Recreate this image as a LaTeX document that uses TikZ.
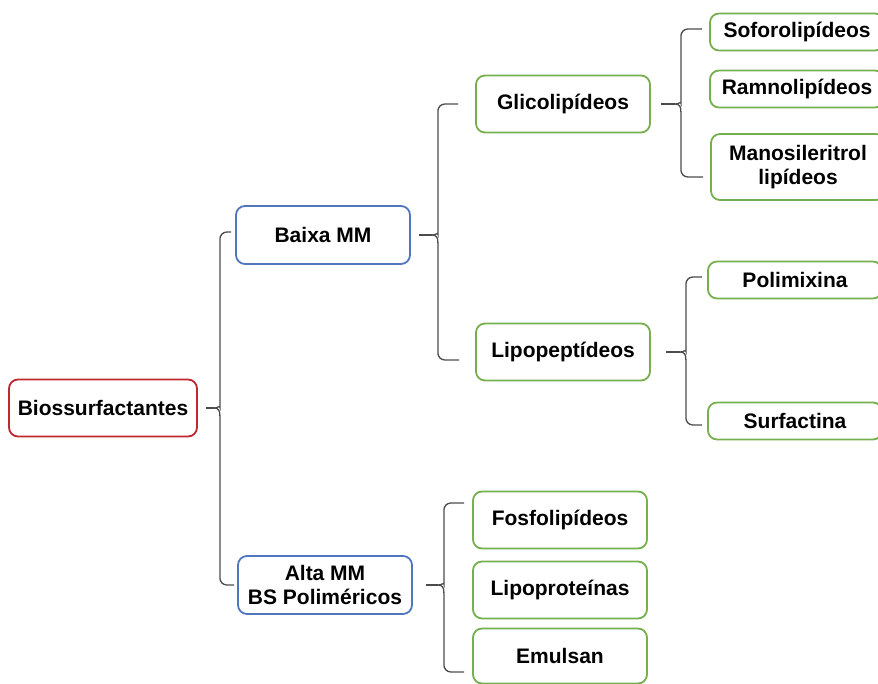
\documentclass[tikz,border=0pt]{standalone}
\usepackage{fontspec}
\setmainfont{Liberation Sans}
\usetikzlibrary{positioning,calc}
\definecolor{rootred}{RGB}{192,40,48}
\definecolor{midblue}{RGB}{80,118,190}
\definecolor{leafgreen}{RGB}{118,176,78}
\definecolor{linegray}{RGB}{75,75,75}

\begin{document}
\begin{tikzpicture}[
    x=1pt, y=1pt,
    box/.style={rectangle, rounded corners=9pt, line width=1.8pt, fill=white, align=center, font=\fontsize{21}{23.5}\selectfont\bfseries, inner sep=2pt},
    root/.style={box, draw=rootred, minimum width=188pt, minimum height=57pt},
    mid/.style={box, draw=midblue, minimum width=174pt, minimum height=58pt},
    leaf/.style={box, draw=leafgreen, minimum width=174pt, minimum height=57pt},
    small/.style={box, draw=leafgreen, minimum width=174pt, minimum height=37pt},
    bline/.style={draw=linegray, line width=1.3pt}
]

\clip (0,0) rectangle (878,683);

% Main components
\node[root] (bio) at (103,275) {Biossurfactantes};
\node[mid] (baixa) at (323,448) {Baixa MM};
\node[mid] (alta) at (325,98) {Alta MM\\BS Poliméricos};

% Baixa MM branch
\node[leaf] (glico) at (563,579) {Glicolipídeos};
\node[leaf] (lipop) at (563,331) {Lipopeptídeos};
\node[small] (sofo) at (797,651) {Soforolipídeos};
\node[small] (ramno) at (797,594) {Ramnolipídeos};
\node[leaf, minimum height=66pt] (mano) at (798,516) {Manosileritrol\\lipídeos};
\node[small] (polim) at (795,403) {Polimixina};
\node[small] (surf) at (795,262) {Surfactina};

% Alta MM branch
\node[leaf] (fosfo) at (560,163) {Fosfolipídeos};
\node[leaf] (lipopr) at (560,93) {Lipoproteínas};
\node[leaf, minimum height=55pt] (emul) at (560,27) {Emulsan};

% Spines of the braces
\coordinate (s1) at ([xshift=22pt]bio.east);
\coordinate (s2) at ([xshift=27pt]baixa.east);
\coordinate (s3) at ([xshift=30pt]glico.east);
\coordinate (s4) at ([xshift=35pt]lipop.east);
\coordinate (s5) at ([xshift=31pt]alta.east);

% Braces
\draw[bline] ([xshift=-4pt,yshift=3pt]baixa.west) [rounded corners=7pt] -| ([yshift=8pt]s1)
  [sharp corners] .. controls +(0,-5) and +(5,0) .. ([xshift=-6pt]s1)
  .. controls +(5,0) and +(0,5) .. ([yshift=-8pt]s1)
  [rounded corners=7pt] |- ([xshift=-3pt]alta.west);
\draw[bline] ([xshift=8pt]bio.east) -- ([xshift=-6pt]s1);

\draw[bline] ([xshift=-17pt]glico.west) [rounded corners=7pt] -| ([yshift=8pt]s2)
  [sharp corners] .. controls +(0,-5) and +(5,0) .. ([xshift=-6pt]s2)
  .. controls +(5,0) and +(0,5) .. ([yshift=-8pt]s2)
  [rounded corners=7pt] |- ([xshift=-16pt,yshift=-8pt]lipop.west);
\draw[bline] ([xshift=8pt]baixa.east) -- ([xshift=-6pt]s2);

\draw[bline] ([xshift=-7pt,yshift=3pt]sofo.west) [rounded corners=7pt] -| ([yshift=8pt]s3)
  [sharp corners] .. controls +(0,-5) and +(5,0) .. ([xshift=-6pt]s3)
  .. controls +(5,0) and +(0,5) .. ([yshift=-8pt]s3)
  [rounded corners=7pt] |- ([xshift=-7pt,yshift=-10pt]mano.west);
\draw[bline] ([xshift=10pt]glico.east) -- ([xshift=-6pt]s3);

\draw[bline] ([xshift=-5pt,yshift=3pt]polim.west) [rounded corners=7pt] -| ([yshift=8pt]s4)
  [sharp corners] .. controls +(0,-5) and +(5,0) .. ([xshift=-6pt]s4)
  .. controls +(5,0) and +(0,5) .. ([yshift=-8pt]s4)
  [rounded corners=7pt] |- ([xshift=-5pt,yshift=-4pt]surf.west);
\draw[bline] ([xshift=15pt]lipop.east) -- ([xshift=-6pt]s4);

\draw[bline] ([xshift=-8pt,yshift=17pt]fosfo.west) [rounded corners=7pt] -| ([yshift=8pt]s5)
  [sharp corners] .. controls +(0,-5) and +(5,0) .. ([xshift=-6pt]s5)
  .. controls +(5,0) and +(0,5) .. ([yshift=-8pt]s5)
  [rounded corners=7pt] |- ([xshift=-8pt,yshift=-16pt]emul.west);
\draw[bline] ([xshift=13pt]alta.east) -- ([xshift=-6pt]s5);

\end{tikzpicture}
\end{document}
